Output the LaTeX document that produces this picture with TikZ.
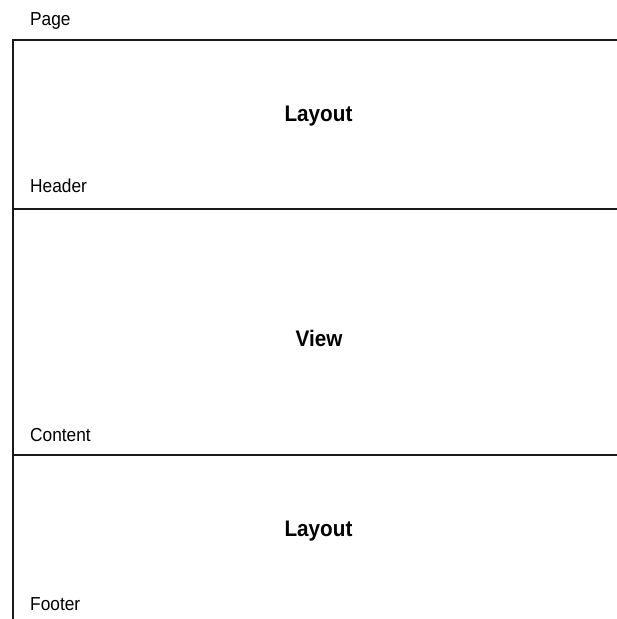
\documentclass[tikz,border=0pt]{standalone}
\usepackage{fontspec}
\setmainfont{Liberation Sans}[FakeStretch=0.92]
\begin{document}
\begin{tikzpicture}[x=1pt,y=-1pt,
  rule/.style={line width=1.8pt, color=black!90},
  label/.style={anchor=base west, inner sep=0pt, font=\fontsize{18.8}{20}\selectfont, text=black},
  title/.style={anchor=base, inner sep=0pt, font=\fontsize{22.5}{24}\selectfont\bfseries, text=black}]
  \useasboundingbox (0,0) rectangle (617,619);
  % page frame: left edge and the three region dividers
  \coordinate (frameTL) at (13,40);
  \coordinate (frameBL) at (13,619);
  \coordinate (frameTR) at (617,40);
  \coordinate (headL) at (13,209);
  \coordinate (headR) at (617,209);
  \coordinate (contL) at (13,455);
  \coordinate (contR) at (617,455);
  \draw[rule] (frameBL) -- (frameTL) -- (frameTR);
  \draw[rule] (headL) -- (headR);
  \draw[rule] (contL) -- (contR);
  % region labels
  \node[label] (page) at (30,25) {Page};
  \node[label] (header) at (30,192.5) {Header};
  \node[label] (content) at (30,441.5) {Content};
  \node[label] (footer) at (30,610) {Footer};
  % region contents
  \node[title] (layoutTop) at (318.5,121) {Layout};
  \node[title] (view) at (319,346.5) {View};
  \node[title] (layoutBot) at (318.5,536.5) {Layout};
\end{tikzpicture}
\end{document}
